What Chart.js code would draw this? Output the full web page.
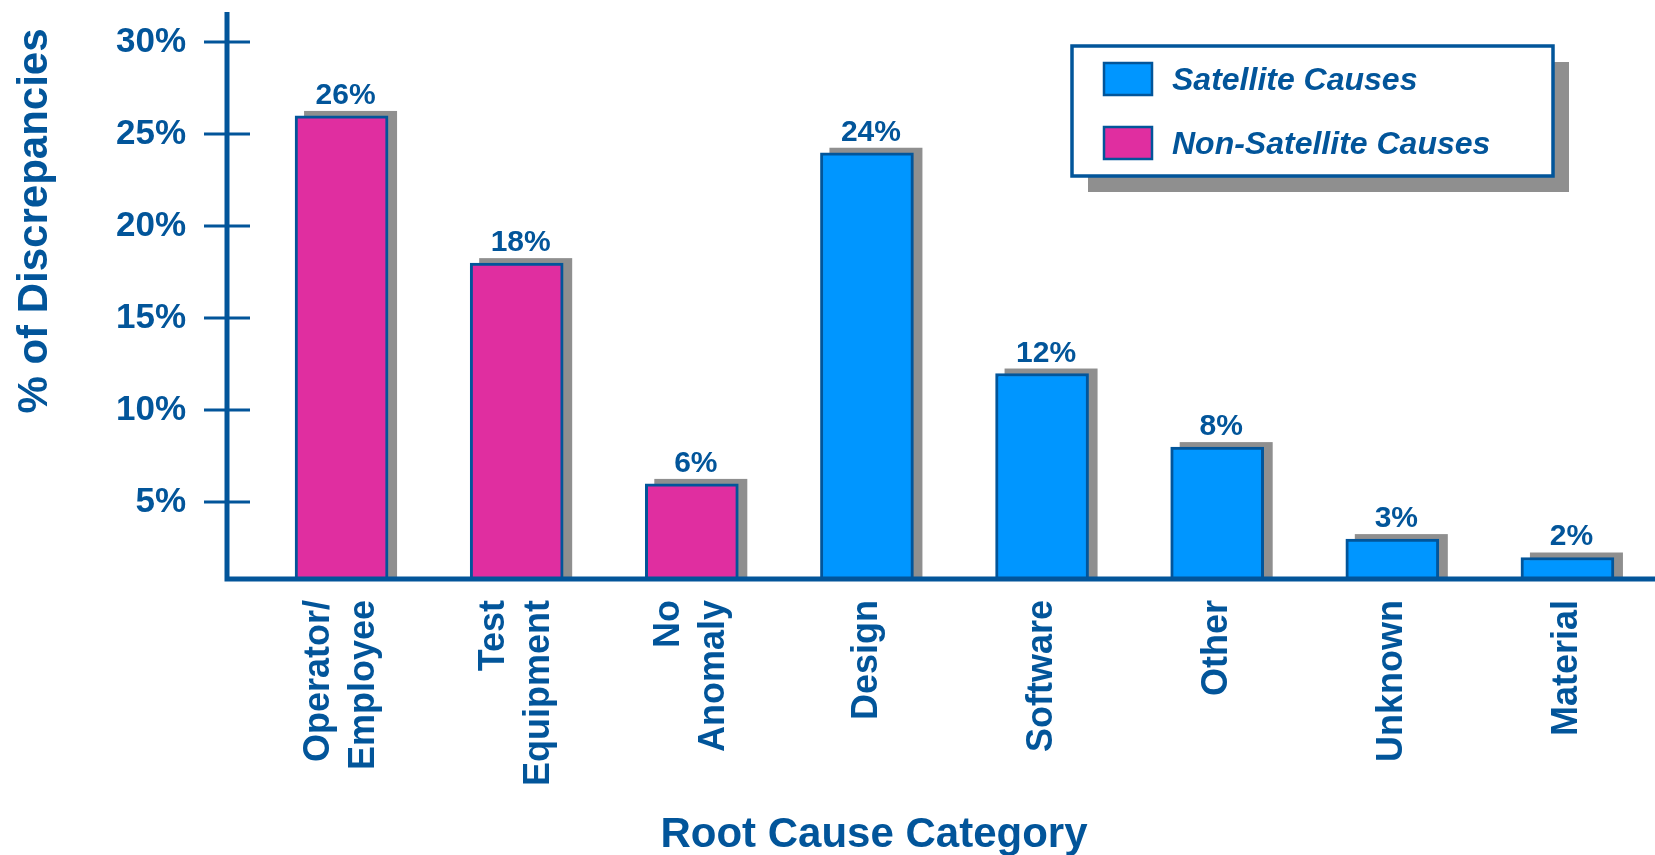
<!DOCTYPE html>
<html>
<head>
<meta charset="utf-8">
<title>Root Cause Category</title>
<script src="https://cdn.jsdelivr.net/npm/chart.js@4.4.1/dist/chart.umd.min.js"></script>
<style>
    html, body { margin: 0; padding: 0; background: #ffffff; }
    #wrap { position: relative; width: 1655px; height: 855px; }
</style>
</head>
<body>
<div id="wrap"><canvas id="causeChart"></canvas></div>
<script>
// Root cause categories and share of discrepancies (%)
const categories = [['Operator/', 'Employee'], ['Test', 'Equipment'], ['No', 'Anomaly'], 'Design', 'Software', 'Other', 'Unknown', 'Material'];
const percents = [26, 18, 6, 24, 12, 8, 3, 2];
const isSatellite = [false, false, false, true, true, true, true, true];
const yTicks = [5, 10, 15, 20, 25, 30];
const legendLabels = ['Satellite Causes', 'Non-Satellite Causes'];

const FONT = '"Liberation Sans", Arial, Helvetica, sans-serif';
const NAVY = '#02559a';
const SAT_BLUE = '#0096ff';
const NONSAT_PINK = '#e02ea0';
const SHADOW = '#8f8f8f';
const AXIS_X = 227; // where the value axis is drawn

// gray drop shadow behind every bar
const barShadows = {
    id: 'barShadows',
    beforeDatasetsDraw(chart) {
        const ctx = chart.ctx;
        const bottom = chart.chartArea.bottom;
        ctx.save();
        ctx.fillStyle = SHADOW;
        chart.getDatasetMeta(0).data.forEach(bar => {
            const top = bar.y - 5;
            ctx.fillRect(bar.x - bar.width / 2 + 9, top, bar.width, Math.min(bar.base, bottom) - top);
        });
        ctx.restore();
    }
};

// axis lines, crossing tick marks, value labels, category labels and titles
const chartDecor = {
    id: 'chartDecor',
    afterDatasetsDraw(chart) {
        const ctx = chart.ctx;
        const area = chart.chartArea;
        const x = chart.scales.x;
        const y = chart.scales.y;
        ctx.save();

        // axes
        ctx.strokeStyle = NAVY;
        ctx.lineWidth = 5;
        ctx.beginPath();
        ctx.moveTo(AXIS_X, area.top);
        ctx.lineTo(AXIS_X, area.bottom + 2);
        ctx.lineTo(chart.width, area.bottom + 2);
        ctx.stroke();

        ctx.lineWidth = 3;
        yTicks.forEach(v => {
            const py = Math.round(y.getPixelForValue(v));
            ctx.beginPath();
            ctx.moveTo(AXIS_X - 23, py);
            ctx.lineTo(AXIS_X + 23, py);
            ctx.stroke();
        });

        // value labels above bars
        ctx.fillStyle = NAVY;
        ctx.font = 'bold 30px ' + FONT;
        ctx.textAlign = 'center';
        ctx.textBaseline = 'alphabetic';
        chart.getDatasetMeta(0).data.forEach((bar, i) => {
            ctx.fillText(percents[i] + '%', bar.x + 4, bar.y - 12);
        });

        // rotated category labels
        ctx.font = 'bold 36px ' + FONT;
        ctx.textAlign = 'right';
        ctx.textBaseline = 'middle';
        categories.forEach((label, i) => {
            const lines = Array.isArray(label) ? label : [label];
            const cx = x.getPixelForTick(i);
            lines.forEach((line, j) => {
                ctx.save();
                ctx.translate(cx + (j - (lines.length - 1) / 2) * 44.5, area.bottom + 23);
                ctx.rotate(-Math.PI / 2);
                ctx.fillText(line, 0, 0);
                ctx.restore();
            });
        });

        // axis titles
        ctx.font = 'bold 42px ' + FONT;
        ctx.textAlign = 'center';
        ctx.textBaseline = 'alphabetic';
        ctx.fillText('Root Cause Category', 874, 847);

        ctx.save();
        ctx.translate(47, 221);
        ctx.rotate(-Math.PI / 2);
        ctx.fillText('% of Discrepancies', 0, 0);
        ctx.restore();

        ctx.restore();
    },
    afterDraw(chart) {
        // boxed legend with drop shadow
        const ctx = chart.ctx;
        const box = { x: 1072, y: 46, w: 481, h: 130 };
        ctx.save();
        ctx.fillStyle = SHADOW;
        ctx.fillRect(box.x + 16, box.y + 16, box.w, box.h);
        ctx.fillStyle = '#ffffff';
        ctx.fillRect(box.x, box.y, box.w, box.h);
        ctx.strokeStyle = NAVY;
        ctx.lineWidth = 3.5;
        ctx.strokeRect(box.x, box.y, box.w, box.h);

        const swatchColors = [SAT_BLUE, NONSAT_PINK];
        const rowY = [79, 143];
        ctx.font = 'italic bold 32px ' + FONT;
        ctx.textAlign = 'left';
        ctx.textBaseline = 'middle';
        legendLabels.forEach((text, i) => {
            ctx.fillStyle = swatchColors[i];
            ctx.fillRect(1104, rowY[i] - 16, 48, 32);
            ctx.lineWidth = 2.5;
            ctx.strokeRect(1104, rowY[i] - 16, 48, 32);
            ctx.fillStyle = NAVY;
            ctx.fillText(text, 1172, rowY[i] + 2);
        });
        ctx.restore();
    }
};

document.addEventListener('DOMContentLoaded', () => {
    const ctx = document.getElementById('causeChart').getContext('2d');
    new Chart(ctx, {
        type: 'bar',
        data: {
            labels: categories,
            datasets: [{
                label: '% of Discrepancies',
                data: percents,
                backgroundColor: isSatellite.map(s => (s ? SAT_BLUE : NONSAT_PINK)),
                borderColor: NAVY,
                borderWidth: 3,
                borderSkipped: false,
                barThickness: 93
            }]
        },
        options: {
            responsive: true,
            maintainAspectRatio: false,
            animation: false,
            layout: { padding: { top: 12, right: 0, bottom: 0, left: 0 } },
            plugins: {
                legend: { display: false },
                tooltip: { enabled: false }
            },
            scales: {
                x: {
                    type: 'category',
                    offset: true,
                    grid: { display: false, drawTicks: false },
                    border: { display: false },
                    ticks: { display: false },
                    afterFit: scale => {
                        scale.height = 278;
                        scale.paddingLeft = 0;
                        scale.paddingRight = 0;
                    }
                },
                y: {
                    min: 0.94,
                    max: 31.65,
                    grid: { display: false, drawTicks: false },
                    border: { display: false },
                    afterBuildTicks: scale => {
                        scale.ticks = yTicks.map(v => ({ value: v }));
                    },
                    ticks: {
                        padding: 68,
                        color: NAVY,
                        font: { family: FONT, size: 35, weight: 'bold' },
                        callback: v => v + '%'
                    },
                    afterFit: scale => {
                        scale.width = 254;
                        scale.paddingTop = 0;
                        scale.paddingBottom = 0;
                    }
                }
            }
        },
        plugins: [barShadows, chartDecor]
    });
});
</script>
</body>
</html>
